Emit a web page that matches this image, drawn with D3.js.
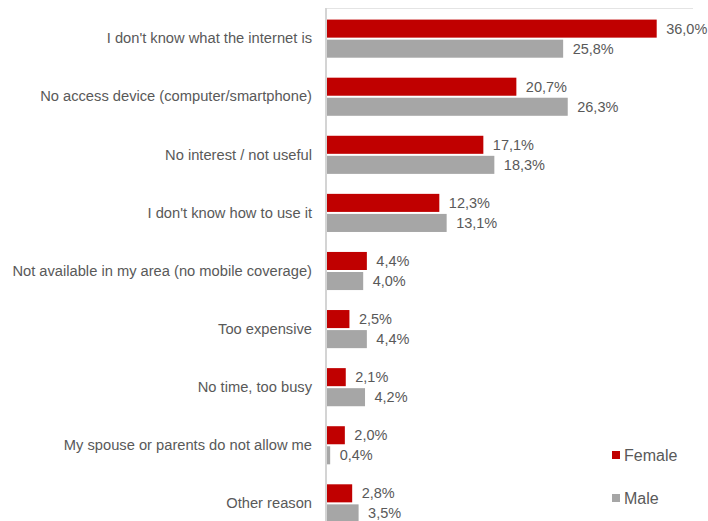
<!DOCTYPE html>
<html>
<head>
<meta charset="utf-8">
<script src="https://cdn.jsdelivr.net/npm/d3@7/dist/d3.min.js"></script>
<style>
  html, body { margin: 0; padding: 0; background: #fff; }
  svg { display: block; font-family: "Liberation Sans", Arial, sans-serif; }
</style>
</head>
<body>
<svg id="chart" width="708" height="521"></svg>
<script>
// Reasons for not using the internet, by gender (%)
const categories = [
  "I don't know what the internet is",
  "No access device (computer/smartphone)",
  "No interest / not useful",
  "I don't know how to use it",
  "Not available in my area (no mobile coverage)",
  "Too expensive",
  "No time, too busy",
  "My spouse or parents do not allow me",
  "Other reason"
];
const seriesNames = ["Female", "Male"];
const female = [36.0, 20.7, 17.1, 12.3, 4.4, 2.5, 2.1, 2.0, 2.8];
const male   = [25.8, 26.3, 18.3, 13.1, 4.0, 4.4, 4.2, 0.4, 3.5];
const seriesValues = { Female: female, Male: male };
const colors = { Female: "#c00000", Male: "#a6a6a6" };

const svg = d3.select("#chart");
const textColor = "#595959";

const x = d3.scaleLinear().domain([0, 36]).range([326.5, 656.7]);
const y = d3.scaleBand().domain(categories)
  .range([9.6, 532.4]).paddingInner(0.344).paddingOuter(0.172);
const ySub = d3.scaleBand().domain(seriesNames)
  .range([0, y.bandwidth()]).paddingInner(0.1);

const fmt = v => d3.format(".1f")(v).replace(".", ",") + "%";

// plot frame: faint top edge and the category axis
svg.append("line")
  .attr("x1", 326).attr("x2", 693).attr("y1", 8.5).attr("y2", 8.5)
  .attr("stroke", "#e4e4e4").attr("stroke-width", 1);

const rows = categories.map((c, i) => ({
  cat: c,
  vals: seriesNames.map(s => ({ series: s, value: seriesValues[s][i] }))
}));

const groups = svg.append("g").selectAll("g")
  .data(rows).join("g")
  .attr("transform", d => `translate(0,${y(d.cat)})`);

groups.selectAll("rect")
  .data(d => d.vals).join("rect")
  .attr("x", x(0))
  .attr("y", d => ySub(d.series))
  .attr("width", d => x(d.value) - x(0))
  .attr("height", ySub.bandwidth())
  .attr("fill", d => colors[d.series]);

groups.selectAll("text.val")
  .data(d => d.vals).join("text")
  .attr("class", "val")
  .attr("x", d => x(d.value) + 9.5)
  .attr("y", d => ySub(d.series) + ySub.bandwidth() / 2)
  .attr("dy", "0.35em")
  .attr("font-size", "14.5px")
  .attr("fill", textColor)
  .text(d => fmt(d.value));

// category labels
const yAxis = d3.axisLeft(y).tickSize(0).tickPadding(14);
const ax = svg.append("g").attr("transform", "translate(326,0)").call(yAxis);
ax.select(".domain").remove();
ax.selectAll("text")
  .attr("font-size", "14.7px")
  .attr("fill", textColor)
  .attr("font-family", "Liberation Sans, Arial, sans-serif");

svg.append("line")
  .attr("x1", 326).attr("x2", 326).attr("y1", 8).attr("y2", 521)
  .attr("stroke", "#d4d4d4").attr("stroke-width", 2);

// legend
const legend = svg.append("g").selectAll("g")
  .data(seriesNames).join("g")
  .attr("transform", (d, i) => `translate(612,${451 + i * 43})`);
legend.append("rect")
  .attr("width", 8).attr("height", 8)
  .attr("fill", d => colors[d]);
legend.append("text")
  .attr("x", 12).attr("y", 9.5)
  .attr("font-size", "16px")
  .attr("fill", textColor)
  .text(d => d);
</script>
</body>
</html>
